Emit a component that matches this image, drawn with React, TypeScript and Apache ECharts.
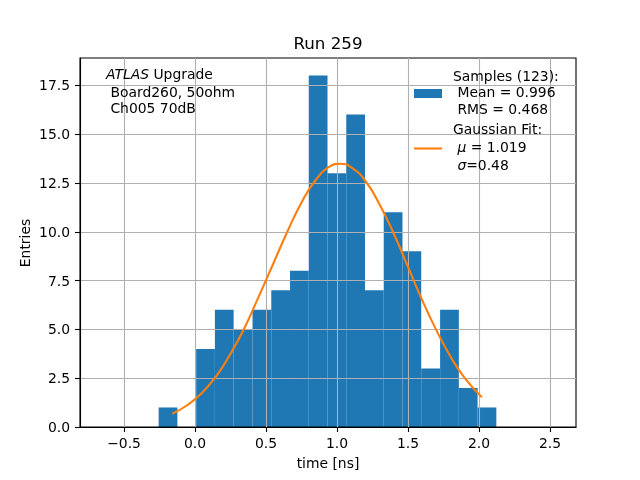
import * as echarts from 'echarts';
import { useEffect, useRef } from 'react';

// histogram bins (edges) and entries per bin
const binEdges = [-0.256, -0.124, 0.008, 0.140, 0.272, 0.405, 0.537, 0.669, 0.801, 0.933,
    1.065, 1.197, 1.329, 1.461, 1.593, 1.726, 1.858, 1.990, 2.122];
const binCounts = [1, 0, 4, 6, 5, 6, 7, 8, 18, 13, 16, 7, 11, 9, 3, 6, 2, 1];

// gaussian fit curve
const fitX = [-0.16, -0.05, 0.05, 0.15, 0.25, 0.35, 0.45, 0.55, 0.65, 0.75, 0.85, 0.95, 1.02,
    1.10, 1.20, 1.30, 1.40, 1.50, 1.60, 1.70, 1.80, 1.90, 2.02];
const fitY = [0.68, 1.14, 1.75, 2.61, 3.75, 5.1, 6.7, 8.35, 10.0, 11.5, 12.65, 13.35, 13.48,
    13.3, 12.6, 11.4, 9.9, 8.2, 6.5, 4.95, 3.6, 2.5, 1.52];

const xTicks = [-0.5, 0, 0.5, 1.0, 1.5, 2.0, 2.5];
const yTicks = [0, 2.5, 5.0, 7.5, 10.0, 12.5, 15.0, 17.5];

const titleText = 'Run 259';
const xName = 'time [ns]';
const yName = 'Entries';
const infoLines = ['{i|ATLAS} Upgrade', ' Board260, 50ohm', ' Ch005 70dB'];
const legendSamples = ['Samples (123):', ' Mean = 0.996', ' RMS = 0.468'];
const legendFit = ['Gaussian Fit:', ' {i|μ} = 1.019', ' {i|σ}=0.48'];

const FONT = 'DejaVu Sans';
const BLUE = '#1f77b4';
const ORANGE = '#ff7f0e';

export default function App() {
    const chartRef = useRef<HTMLDivElement>(null);

    useEffect(() => {
        document.body.style.margin = '0';
        const chart = echarts.init(chartRef.current, null, { renderer: 'svg' });

        const hist = binCounts.map((c, i) => [binEdges[i], binEdges[i + 1], c]);
        const fit = fitX.map((x, i) => [x, fitY[i]]);

        const txt = (text: string, x: number, y: number, extra: any = {}) => ({
            type: 'text',
            x, y,
            z: 10,
            style: {
                text,
                font: `13.9px "${FONT}"`,
                fill: '#000',
                textVerticalAlign: 'middle',
                rich: { i: { fontStyle: 'italic', fontFamily: FONT, fontSize: 13.9 } },
                ...extra,
            },
        });

        const tickLine = { color: '#000', width: 1.1 };
        const gridLine = { show: true, lineStyle: { color: '#b0b0b0', width: 1.1 } };

        const option = {
            animation: false,
            textStyle: { fontFamily: FONT },
            grid: {
                left: 80, top: 58, width: 496, height: 369,
                show: true, borderColor: '#000', borderWidth: 1.1,
                backgroundColor: 'transparent',
            },
            xAxis: {
                type: 'value',
                min: -0.81,
                max: 2.683,
                axisLine: { show: true, onZero: false, lineStyle: tickLine },
                axisTick: { show: true, length: 5, customValues: xTicks, lineStyle: tickLine },
                axisLabel: {
                    customValues: xTicks,
                    margin: 9,
                    color: '#000', fontSize: 13.9, fontFamily: FONT,
                    formatter: (v: number) => v.toFixed(1).replace('-', '\u2212'),
                },
                splitLine: gridLine,
            },
            yAxis: {
                type: 'value',
                min: 0,
                max: 18.9,
                axisLine: { show: true, onZero: false, lineStyle: tickLine },
                axisTick: { show: true, length: 5, customValues: yTicks, lineStyle: tickLine },
                axisLabel: {
                    customValues: yTicks,
                    margin: 10,
                    color: '#000', fontSize: 13.9, fontFamily: FONT,
                    formatter: (v: number) => v.toFixed(1),
                },
                splitLine: gridLine,
            },
            series: [
                {
                    type: 'custom',
                    z: -1,
                    data: hist,
                    encode: { x: [0, 1], y: 2 },
                    renderItem: (params: any, api: any) => {
                        const c = api.value(2);
                        if (!c) return null;
                        const p0 = api.coord([api.value(0), c]);
                        const p1 = api.coord([api.value(1), 0]);
                        return {
                            type: 'rect',
                            shape: { x: p0[0], y: p0[1], width: p1[0] - p0[0], height: p1[1] - p0[1] },
                            style: { fill: BLUE },
                        };
                    },
                },
                {
                    type: 'line',
                    data: fit,
                    smooth: true,
                    showSymbol: false,
                    lineStyle: { color: ORANGE, width: 2.1 },
                },
            ],
            graphic: [
                txt(titleText, 328, 43, { font: `16.7px "${FONT}"`, textAlign: 'center' }),
                txt(xName, 328, 463, { textAlign: 'center' }),
                { ...txt(yName, 25, 243, { textAlign: 'center' }), rotation: Math.PI / 2 },
                txt(infoLines[0], 106, 74),
                txt(infoLines[1], 106, 92),
                txt(infoLines[2], 106, 108),
                txt(legendSamples[0], 453, 76),
                txt(legendSamples[1], 453, 92),
                txt(legendSamples[2], 453, 109),
                txt(legendFit[0], 453, 129),
                txt(legendFit[1], 453, 147),
                txt(legendFit[2], 453, 165),
                { type: 'rect', z: 10, shape: { x: 414, y: 89, width: 28, height: 9 }, style: { fill: BLUE } },
                { type: 'line', z: 10, shape: { x1: 414, y1: 148.5, x2: 442, y2: 148.5 }, style: { stroke: ORANGE, lineWidth: 2.1 } },
            ],
        };

        chart.setOption(option as any);
        return () => {
            chart.dispose();
        };
    }, []);

    return <div
        ref={chartRef}
        style={{ position: 'fixed', left: 0, top: 0, width: '640px', height: '480px' }}
    />;
}
